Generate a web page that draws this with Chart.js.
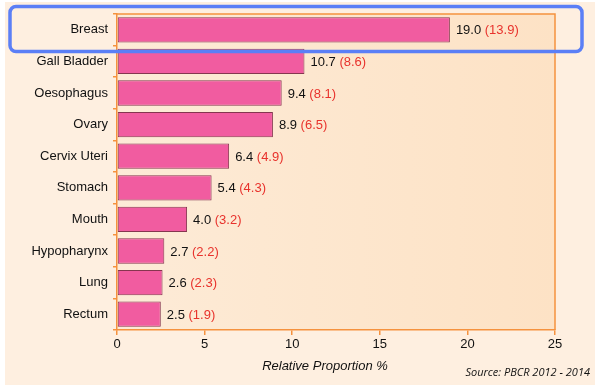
<!DOCTYPE html>
<html>
<head>
<meta charset="utf-8">
<script src="https://cdn.jsdelivr.net/npm/chart.js@4.4.1/dist/chart.umd.min.js"></script>
<style>
  html, body { margin: 0; padding: 0; background: #ffffff; }
  #wrap { width: 600px; height: 388px; }
</style>
</head>
<body>
<div id="wrap"><canvas id="chart" width="600" height="388"></canvas></div>
<script>
const sites = ['Breast', 'Gall Bladder', 'Oesophagus', 'Ovary', 'Cervix Uteri', 'Stomach', 'Mouth', 'Hypopharynx', 'Lung', 'Rectum'];
const proportion = [19.0, 10.7, 9.4, 8.9, 6.4, 5.4, 4.0, 2.7, 2.6, 2.5];
const bracketed = [13.9, 8.6, 8.1, 6.5, 4.9, 4.3, 3.2, 2.2, 2.3, 1.9];
const xTitle = 'Relative Proportion %';
const sourceNote = 'Source: PBCR 2012 - 2014';

const ORANGE = '#f5923e';

// backgrounds, frame, value labels and highlight box
const decor = {
  id: 'decor',
  beforeDraw(chart) {
    const { ctx, chartArea: a } = chart;
    ctx.save();
    ctx.fillStyle = '#ffffff';
    ctx.fillRect(0, 0, chart.width, chart.height);
    ctx.fillStyle = '#feefe0';
    ctx.fillRect(5, 2, 590, 383);
    const g = ctx.createLinearGradient(a.left, 0, a.right, 0);
    g.addColorStop(0, '#fdebd7');
    g.addColorStop(1, '#fde2c5');
    ctx.fillStyle = g;
    ctx.fillRect(a.left, a.top, a.right - a.left, a.bottom - a.top);
    ctx.restore();
  },
  afterDatasetsDraw(chart) {
    const { ctx, chartArea: a } = chart;
    ctx.save();
    ctx.strokeStyle = ORANGE;
    ctx.lineWidth = 1.5;
    ctx.beginPath();
    ctx.moveTo(a.left, a.top);
    ctx.lineTo(a.right, a.top);
    ctx.lineTo(a.right, a.bottom);
    ctx.stroke();

    const meta = chart.getDatasetMeta(0);
    ctx.font = '13px "Liberation Sans", Arial, sans-serif';
    ctx.textBaseline = 'middle';
    meta.data.forEach((bar, i) => {
      const main = proportion[i].toFixed(1);
      const x = bar.x + 6;
      ctx.fillStyle = '#111111';
      ctx.fillText(main, x, bar.y + 1);
      const w = ctx.measureText(main + ' ').width;
      ctx.fillStyle = '#e8322c';
      ctx.fillText('(' + bracketed[i].toFixed(1) + ')', x + w, bar.y + 1);
    });

    ctx.fillStyle = '#111111';
    ctx.textAlign = 'center';
    ctx.font = 'italic 13px "Liberation Sans", Arial, sans-serif';
    ctx.fillText(xTitle, 325, 366);
    ctx.textAlign = 'right';
    ctx.font = 'italic 11px "Open Sans", sans-serif';
    ctx.fillText(sourceNote, 590, 373);

    ctx.strokeStyle = '#5b7ff6';
    ctx.lineWidth = 3.5;
    ctx.beginPath();
    ctx.roundRect(10, 6.5, 572, 45, 6);
    ctx.stroke();
    ctx.restore();
  }
};

new Chart(document.getElementById('chart'), {
  type: 'bar',
  data: {
    labels: sites,
    datasets: [{
      data: proportion,
      backgroundColor: '#f15ca0',
      borderColor: '#85364f',
      borderWidth: 1,
      borderSkipped: false,
      categoryPercentage: 1,
      barPercentage: 0.8
    }]
  },
  options: {
    indexAxis: 'y',
    responsive: false,
    animation: false,
    layout: { padding: { top: 14, right: 45, left: 0, bottom: 0 } },
    plugins: { legend: { display: false }, tooltip: { enabled: false } },
    scales: {
      x: {
        min: 0,
        max: 25,
        ticks: { stepSize: 5, color: '#111', padding: 2, font: { family: '"Liberation Sans", Arial, sans-serif', size: 13 } },
        grid: { drawOnChartArea: false, drawTicks: true, tickLength: 5, color: ORANGE, lineWidth: 1.5 },
        border: { color: ORANGE, width: 1.5 },
        afterFit(scale) { scale.height = 58; }
      },
      y: {
        ticks: { color: '#111', padding: 5, font: { family: '"Liberation Sans", Arial, sans-serif', size: 13 } },
        grid: { drawOnChartArea: false, drawTicks: true, tickLength: 4, color: ORANGE, lineWidth: 1.5, offset: true },
        border: { color: ORANGE, width: 1.5 },
        afterFit(scale) { scale.width = 117; }
      }
    }
  },
  plugins: [decor]
});
</script>
</body>
</html>
